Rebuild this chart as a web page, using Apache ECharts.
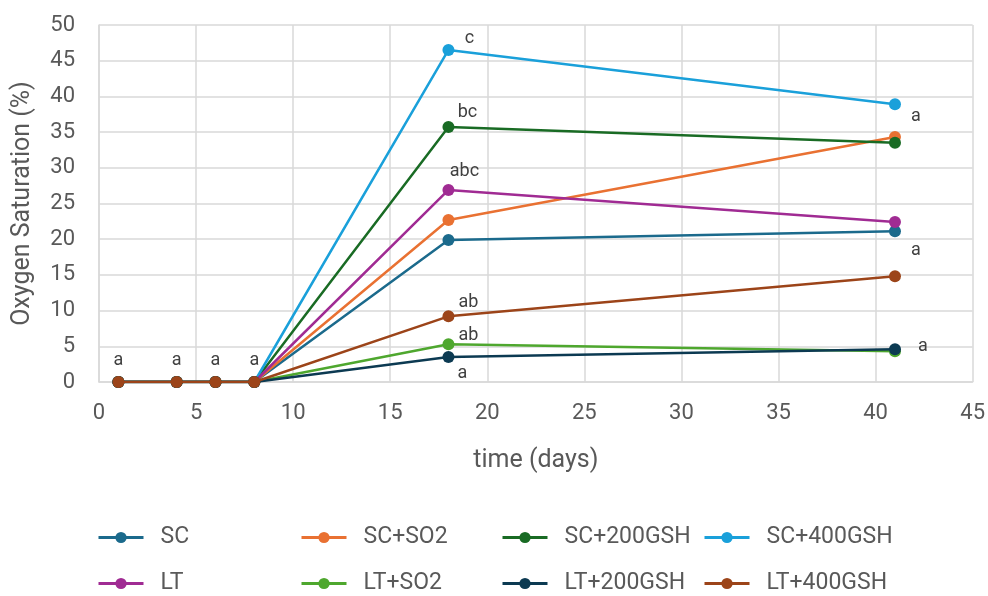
<!DOCTYPE html>
<html><head><meta charset="utf-8">
<script src="https://cdn.jsdelivr.net/npm/echarts@6/dist/echarts.min.js"></script>
<style>html,body{margin:0;padding:0;background:#fff}#c{width:988px;height:596px}</style>
</head><body><div id="c"></div>
<script>
const days = [1, 4, 6, 8, 18, 41];
const seriesNames = ['SC','SC+SO2','SC+200GSH','SC+400GSH','LT','LT+SO2','LT+200GSH','LT+400GSH'];
const SC        = [0, 0, 0, 0, 19.9, 21.1];
const SC_SO2    = [0, 0, 0, 0, 22.7, 34.3];
const SC_200GSH = [0, 0, 0, 0, 35.7, 33.5];
const SC_400GSH = [0, 0, 0, 0, 46.5, 38.9];
const LT        = [0, 0, 0, 0, 26.9, 22.4];
const LT_SO2    = [0, 0, 0, 0, 5.3, 4.3];
const LT_200GSH = [0, 0, 0, 0, 3.5, 4.6];
const LT_400GSH = [0, 0, 0, 0, 9.2, 14.8];
const values = [SC, SC_SO2, SC_200GSH, SC_400GSH, LT, LT_SO2, LT_200GSH, LT_400GSH];
// significance letters per series, aligned with days
const letters = {
  'SC':        ['', '', '', '', '', 'a'],
  'SC+200GSH': ['', '', '', '', 'bc', ''],
  'SC+400GSH': ['', '', '', '', 'c', 'a'],
  'LT':        ['', '', '', '', 'abc', ''],
  'LT+SO2':    ['', '', '', '', 'ab', ''],
  'LT+200GSH': ['', '', '', '', 'a', 'a'],
  'LT+400GSH': ['a', 'a', 'a', 'a', 'ab', '']
};
const xTicks = [0, 5, 10, 15, 20, 25, 30, 35, 40, 45];
const yTicks = [0, 5, 10, 15, 20, 25, 30, 35, 40, 45, 50];

// styling (not data)
const colors = ['#1B6A8C','#E97132','#196B24','#1AA0DA','#A02B93','#4EA72E','#0C3A52','#9C4419'];
const labelOffsets = {
  'SC':        {5: [21, 19]},
  'SC+200GSH': {4: [19, -15]},
  'SC+400GSH': {4: [21, -11], 5: [21, 12]},
  'LT':        {4: [16, -18]},
  'LT+SO2':    {4: [20, -9]},
  'LT+200GSH': {4: [14, 16], 5: [28, -3]},
  'LT+400GSH': {0: [0, -22], 1: [0, -22], 2: [0, -22], 3: [0, -22], 4: [20, -14]}
};
const FONT = 'Roboto, "Liberation Sans", sans-serif';
const gray = '#595959';

const series = seriesNames.map((name, si) => {
  const lt = letters[name] || [];
  const offs = labelOffsets[name] || {};
  return {
    name, type: 'line', symbol: 'circle', symbolSize: 12,
    itemStyle: {color: colors[si]},
    lineStyle: {width: 2.5, color: colors[si]},
    z: 2 + si,
    data: days.map((d, i) => {
      const item = {value: [d, values[si][i]]};
      if (lt[i]) {
        item.label = {show: true, formatter: lt[i], position: 'inside',
          offset: offs[i] || [0, -20], color: '#404040', fontSize: 18, fontFamily: FONT};
      }
      return item;
    }),
    label: {show: false},
    emphasis: {disabled: true},
    animation: false
  };
});

const legendCols = [97, 300, 501, 703];
const legendRows = [526, 572];
const legends = seriesNames.map((n, i) => ({
  data: [n],
  left: legendCols[i % 4], top: legendRows[Math.floor(i / 4)],
  padding: 0,
  itemWidth: 45, itemHeight: 14,
  lineStyle: {width: 3},
  textStyle: {color: gray, fontSize: 23, fontFamily: FONT, padding: [0, 0, 0, 12]},
  selectedMode: false
}));

const chart = echarts.init(document.getElementById('c'), null, {renderer: 'canvas'});
chart.setOption({
  animation: false,
  backgroundColor: '#fff',
  legend: legends,
  grid: {left: 99, right: 15, top: 25, bottom: 214, containLabel: false},
  xAxis: {
    type: 'value', min: xTicks[0], max: xTicks[xTicks.length - 1], interval: 5,
    name: 'time (days)', nameLocation: 'middle', nameGap: 66,
    nameTextStyle: {color: gray, fontSize: 25, fontFamily: FONT},
    axisLine: {show: true, lineStyle: {color: '#d9d9d9', width: 1.5}},
    axisTick: {show: false},
    axisLabel: {color: gray, fontSize: 22, fontFamily: FONT, margin: 20},
    splitLine: {show: true, lineStyle: {color: '#d9d9d9', width: 1.5}}
  },
  yAxis: {
    type: 'value', min: yTicks[0], max: yTicks[yTicks.length - 1], interval: 5,
    name: 'Oxygen Saturation (%)', nameLocation: 'middle', nameGap: 64,
    nameTextStyle: {color: gray, fontSize: 25, fontFamily: FONT},
    axisLine: {show: true, lineStyle: {color: '#d9d9d9', width: 1.5}},
    axisTick: {show: false},
    axisLabel: {color: gray, fontSize: 22, fontFamily: FONT, margin: 24},
    splitLine: {show: true, lineStyle: {color: '#d9d9d9', width: 1.5}}
  },
  series
});
</script>
</body></html>
